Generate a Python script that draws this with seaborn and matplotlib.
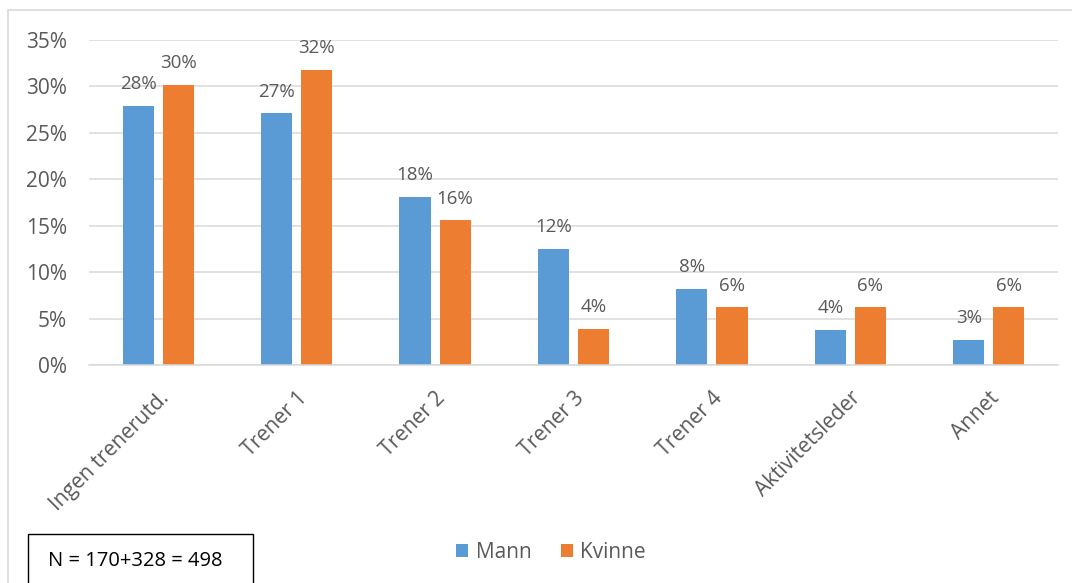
import matplotlib
matplotlib.use("Agg")
import matplotlib.pyplot as plt
from matplotlib.patches import Rectangle, Patch
from matplotlib.ticker import PercentFormatter
import seaborn as sns
import pandas as pd

categories = ["Ingen trenerutd.", "Trener 1", "Trener 2", "Trener 3",
              "Trener 4", "Aktivitetsleder", "Annet"]
mann = [0.279, 0.271, 0.181, 0.125, 0.082, 0.038, 0.027]
kvinne = [0.302, 0.318, 0.156, 0.039, 0.062, 0.062, 0.062]
series = ["Mann", "Kvinne"]
colors = {"Mann": "#5B9BD5", "Kvinne": "#ED7D31"}
note = "N = 170+328 = 498"

df = pd.DataFrame({
    "kategori": categories * 2,
    "kjonn": ["Mann"] * len(categories) + ["Kvinne"] * len(categories),
    "andel": mann + kvinne,
})

sns.set_theme(style="white")
plt.rcParams["font.family"] = ["Open Sans", "DejaVu Sans"]
text_color = "#595959"
grid_color = "#D9D9D9"

fig = plt.figure(figsize=(10.72, 5.83), dpi=100)
W, H = 1072, 583
ax = fig.add_axes([89 / W, 1 - 365 / H, (1058 - 89) / W, (365 - 40) / H])

sns.barplot(data=df, x="kategori", y="andel", hue="kjonn", hue_order=series,
            palette=colors, order=categories, width=0.58, gap=0.225,
            ax=ax, legend=False, saturation=1, edgecolor="none")

for cont in ax.containers:
    ax.bar_label(cont, labels=[f"{v * 100:.0f}%" for v in cont.datavalues],
                 padding=9, fontsize=13.5, color=text_color)

ax.set_ylim(0, 0.35)
ax.set_xlim(-0.5, len(categories) - 0.5)
ax.set_yticks([i * 0.05 for i in range(8)])
ax.yaxis.set_major_formatter(PercentFormatter(1.0, decimals=0))
ax.grid(axis="y", color=grid_color, linewidth=1.1)
ax.set_axisbelow(True)
for side in ["top", "right", "left"]:
    ax.spines[side].set_visible(False)
ax.spines["bottom"].set_color(grid_color)
ax.spines["bottom"].set_linewidth(1.1)
ax.set_xlabel("")
ax.set_ylabel("")
ax.tick_params(axis="y", length=0, pad=16, labelsize=15, labelcolor=text_color)
ax.tick_params(axis="x", length=0, pad=16, labelsize=15, labelcolor=text_color)
for lbl in ax.get_xticklabels():
    lbl.set_rotation(45)
    lbl.set_ha("right")
    lbl.set_rotation_mode("anchor")

# outer chart border
fig.patches.append(Rectangle((8 / W, -0.1), 1.2, 1 - 10 / H + 0.1,
                             transform=fig.transFigure, fill=False,
                             edgecolor=grid_color, linewidth=1.2))

# legend
handles = [Patch(facecolor=colors[s], edgecolor="none", label=s) for s in series]
fig.legend(handles=handles, loc="center", bbox_to_anchor=(551 / W, 1 - 552 / H),
           ncol=2, frameon=False, handlelength=0.6, handleheight=0.6,
           handletextpad=0.35, columnspacing=1.4, fontsize=15,
           labelcolor=text_color)

# sample size box
fig.patches.append(Rectangle((28 / W, -0.1), (253 - 28) / W, (583 - 534) / H + 0.1,
                             transform=fig.transFigure, fill=True, facecolor="white",
                             edgecolor="#000000", linewidth=1.0))
fig.text(48 / W, 1 - 561 / H, note, fontsize=14.5, color="#000000",
         va="center", ha="left")

fig.savefig("out.png", dpi=100)
